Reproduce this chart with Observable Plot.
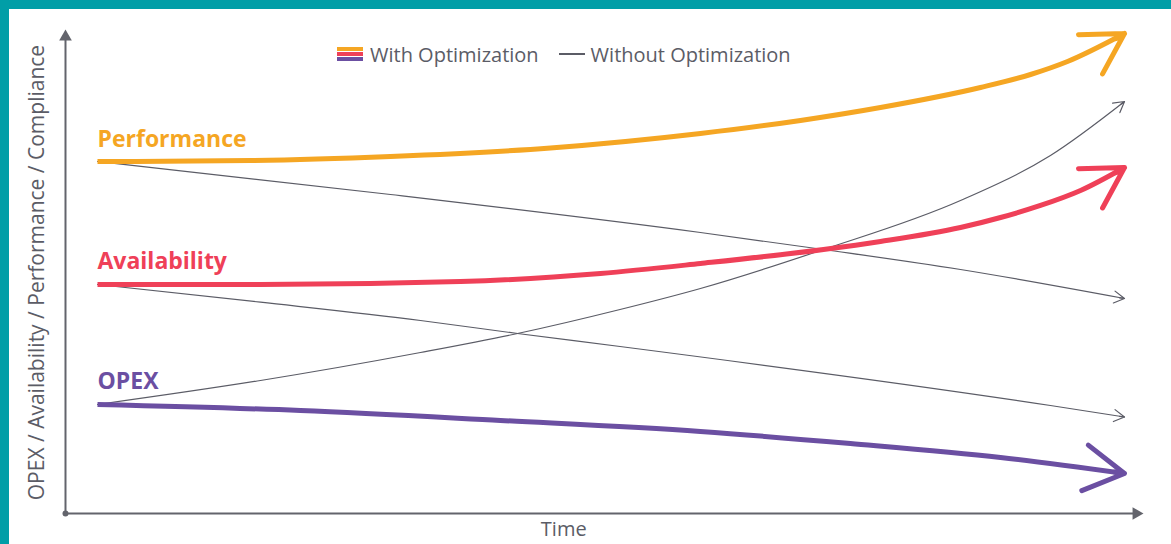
<!DOCTYPE html>
<html>
<head>
<meta charset="utf-8">
<script src="https://cdn.jsdelivr.net/npm/d3@7"></script>
<script src="https://cdn.jsdelivr.net/npm/@observablehq/plot@0.6"></script>
<style>
  html, body { margin: 0; padding: 0; background: #fff; }
  #wrap { position: relative; width: 1171px; height: 544px; box-sizing: border-box;
          border-left: 9px solid #019ea7; border-top: 9px solid #019ea7; background: #fff;
          overflow: hidden; font-family: "Open Sans", sans-serif; }
  #chart svg { display: block; }
  #legend { position: absolute; left: 328px; top: 35px; height: 20px; display: flex; align-items: center;
            font-size: 20px; color: #5b5c66; white-space: nowrap; font-family: "Open Sans", sans-serif; }
  #legend .sw { display: inline-flex; flex-direction: column; gap: 1.4px; margin-right: 7px; }
  #legend .sw i { display: block; width: 26px; height: 4px; }
  #legend .ln { display: inline-block; width: 26px; height: 1.3px; background: #5b5c66; margin: 0 6px 0 20px; }
</style>
</head>
<body>
<div id="wrap"><div id="chart"></div><div id="legend"></div></div>
<script>
// ---------- data (x = time 0..100, y = level 0..100) ----------
const seriesNames = ["Performance", "Availability", "OPEX"];
const seriesColors = ["#f5a623", "#ef4058", "#6b4fa2"];
const legendLabels = ["With Optimization", "Without Optimization"];
const axisLabels = { x: "Time", y: "OPEX / Availability / Performance / Compliance" };

// With optimization (thick curves)
const performanceWith = [[0,73.33],[14.9,73.54],[28.53,74.38],[44.11,76.15],[58.71,79.17],[68.45,81.88],[76.24,84.58],[85.98,88.75],[90.85,91.46],[94.45,94.17],[100,100]];
const availabilityWith = [[0,47.71],[15.87,47.71],[35.35,48.33],[48.98,50.0],[58.71,52.08],[70.69,55.0],[76.24,56.67],[84.03,59.58],[87.93,61.67],[91.82,64.17],[95.72,67.29],[100,72.08]];
const opexWith = [[0,22.71],[19.77,21.46],[39.24,19.38],[58.71,17.08],[73.31,14.58],[87.93,11.67],[100,8.33]];

// Without optimization (thin gray curves)
const performanceWithout = [[0,73.33],[28.53,66.46],[58.71,58.54],[70.69,55.0],[84.03,50.83],[100,44.79]];
const availabilityWithout = [[0,47.71],[15.87,44.02],[31.45,40.21],[40.9,37.5],[50.88,34.79],[92.79,22.5],[100,20.1]];
const opexWithout = [[0,22.71],[15.87,27.71],[31.45,33.54],[40.9,37.5],[50.88,42.5],[58.71,46.88],[70.69,55.0],[84.03,65.21],[92.79,74.58],[100,85.83]];

// Arrow-head approach points (direction into each tip)
const withHeadFrom = [[86.72,82.58],[86.72,54.66],[84.58,13.02]];
const withoutHeadFrom = [[94.22,46.53],[94.22,21.84],[95.36,78.24]];

// ---------- tables ----------
const withSeries = [performanceWith, availabilityWith, opexWith];
const withoutSeries = [performanceWithout, availabilityWithout, opexWithout];
const toRows = (list) => list.flatMap((pts, i) => pts.map(([x, y]) => ({name: seriesNames[i], x, y})));
const withRows = toRows(withSeries);
const withoutRows = toRows(withoutSeries);
const heads = (list, from) => list.map((pts, i) => ({
  name: seriesNames[i], x1: from[i][0], y1: from[i][1], x2: pts[pts.length - 1][0], y2: pts[pts.length - 1][1]
}));
const withHeads = heads(withSeries, withHeadFrom);
const withoutHeads = heads(withoutSeries, withoutHeadFrom);
const labelRows = withSeries.map((pts, i) => ({name: seriesNames[i], x: pts[0][0], y: pts[0][1]}));

const axisX0 = -3.116, axisXEnd = 101.85, axisYEnd = 100.83;
const gray = "#5b5c66", axisGray = "#63646c";
const font = "'Open Sans', sans-serif";

const chart = Plot.plot({
  width: 1162, height: 535,
  margin: 0,
  x: {domain: [0, 100], range: [88, 1115], axis: null},
  y: {domain: [0, 100], range: [504, 24], axis: null},
  color: {domain: seriesNames, range: seriesColors},
  style: {fontFamily: font, background: "#fff", overflow: "visible"},
  marks: [
    // axes
    Plot.ruleX([axisX0], {y1: 0, y2: 99.5, stroke: axisGray, strokeWidth: 2}),
    Plot.ruleY([0], {x1: axisX0, x2: 101, stroke: axisGray, strokeWidth: 2}),
    Plot.dot([0], {x: axisX0, y: axisYEnd, symbol: "triangle", r: 4.7, dy: 7.3, fill: axisGray, stroke: "none"}),
    Plot.dot([0], {x: axisXEnd, y: 0, symbol: "triangle", r: 4.7, dx: -7.3, rotate: 90, fill: axisGray, stroke: "none"}),
    Plot.dot([0], {x: axisX0, y: 0, r: 3, fill: axisGray, stroke: "none"}),
    Plot.text([axisLabels.y], {x: axisX0, y: 50.2, dx: -28, rotate: -90, fontSize: 21, fill: gray, fontFamily: font}),
    Plot.text([axisLabels.x], {x: 45.4, y: 0, dy: 16, fontSize: 20, fill: gray, fontFamily: font}),
    // without optimization
    Plot.line(withoutRows, {x: "x", y: "y", z: "name", stroke: gray, strokeWidth: 1.2, curve: "monotone-x"}),
    Plot.arrow(withoutHeads, {x1: "x1", y1: "y1", x2: "x2", y2: "y2", stroke: gray, strokeWidth: 1.2,
      headLength: 15, headAngle: 60, insetStart: 55, strokeLinejoin: "round"}),
    // with optimization
    Plot.line(withRows, {x: "x", y: "y", z: "name", stroke: "name", strokeWidth: 5, curve: "monotone-x", strokeLinecap: "butt"}),
    Plot.arrow(withHeads, {x1: "x1", y1: "y1", x2: "x2", y2: "y2", stroke: "name", strokeWidth: 5,
      headLength: 13.8, headAngle: 60, insetStart: 150, strokeLinecap: "round", strokeLinejoin: "round"}),
    // series labels
    Plot.text(labelRows, {x: "x", y: "y", text: "name", fill: "name", fontSize: 23, fontWeight: 700,
      textAnchor: "start", lineAnchor: "bottom", dy: -15, fontFamily: font})
  ]
});
document.getElementById("chart").appendChild(chart);

// legend
const legend = document.getElementById("legend");
const sw = document.createElement("span");
sw.className = "sw";
seriesColors.forEach(c => { const i = document.createElement("i"); i.style.background = c; sw.appendChild(i); });
legend.appendChild(sw);
legend.appendChild(document.createTextNode(legendLabels[0]));
const ln = document.createElement("span");
ln.className = "ln";
legend.appendChild(ln);
legend.appendChild(document.createTextNode(legendLabels[1]));
</script>
</body>
</html>
